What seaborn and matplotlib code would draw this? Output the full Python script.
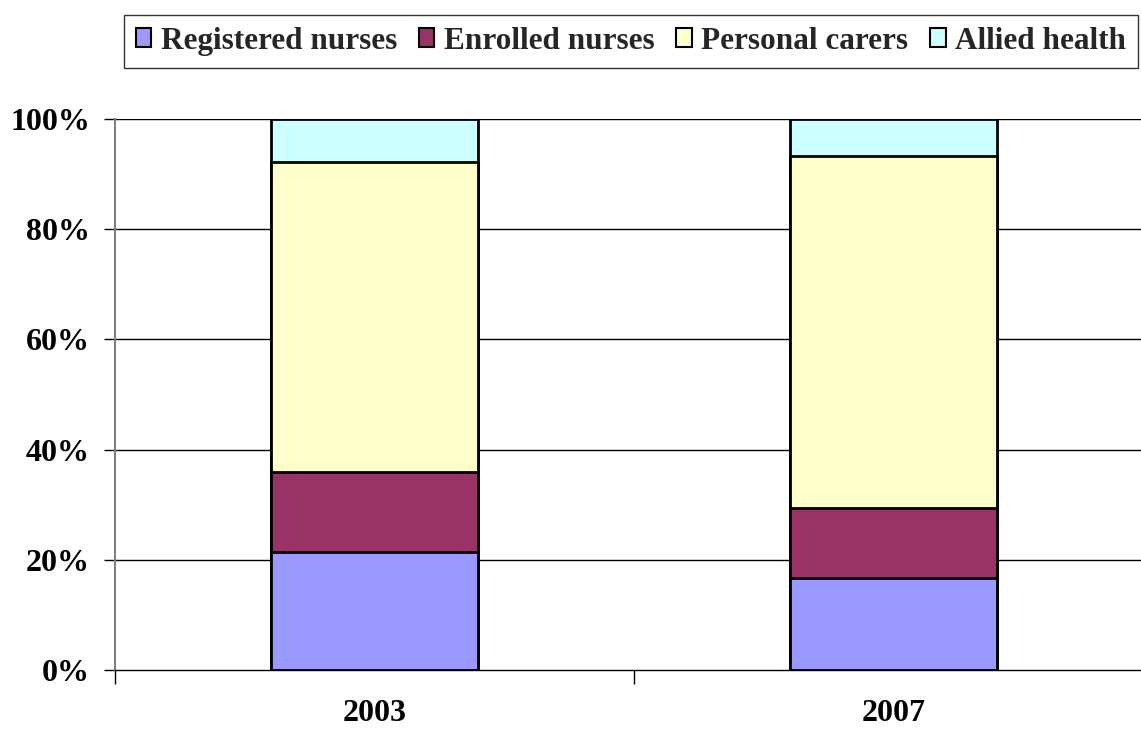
import matplotlib
matplotlib.use("Agg")
import matplotlib.pyplot as plt
import matplotlib.patches as mpatches
import numpy as np
import pandas as pd
import seaborn as sns

# Workforce composition (% of total staff) by survey year
years = ["2003", "2007"]
categories = ["Registered nurses", "Enrolled nurses", "Personal carers", "Allied health"]
registered_nurses = [21.4, 16.7]
enrolled_nurses = [14.6, 12.7]
personal_carers = [56.2, 63.9]
allied_health = [7.8, 6.7]
y_ticks = [0, 20, 40, 60, 80, 100]
y_tick_labels = ["0%", "20%", "40%", "60%", "80%", "100%"]

colors = ["#9999FF", "#993366", "#FFFFCC", "#CCFFFF"]

sns.set_theme(style="white")
plt.rcParams["font.family"] = ["Liberation Serif", "DejaVu Serif"]
plt.rcParams["font.weight"] = "bold"

df = pd.DataFrame({
    "year": years,
    categories[0]: registered_nurses,
    categories[1]: enrolled_nurses,
    categories[2]: personal_carers,
    categories[3]: allied_health,
})
cum = df[categories].cumsum(axis=1)

fig = plt.figure(figsize=(11.41, 7.29), dpi=100)
ax = fig.add_axes([115 / 1141, 1 - 670 / 729, 1038 / 1141, 551 / 729])

# horizontal gridlines behind the bars
for yv in y_ticks[1:]:
    ax.axhline(yv, color="black", lw=1.0, zorder=0)

# stacked bars: draw cumulative totals from the top segment downwards
for cat, col in reversed(list(zip(categories, colors))):
    sns.barplot(x=df["year"], y=cum[cat], color=col, width=0.4,
                edgecolor="black", linewidth=2.0, saturation=1,
                ax=ax, zorder=2)

ax.set_xlim(-0.5, 1.5)
ax.set_ylim(0, 100)
ax.set_yticks(y_ticks)
ax.set_yticklabels(y_tick_labels)
ax.set_xticks([0, 1])
ax.set_xticklabels(years)
ax.set_xlabel("")
ax.set_ylabel("")

# category separator ticks on the x axis
ax.set_xticks([-0.5, 0.5, 1.5], minor=True)
ax.tick_params(axis="x", which="major", length=0, pad=21, labelsize=23)
ax.tick_params(axis="x", which="minor", length=10, width=1, color="black",
               direction="out", bottom=True)
ax.tick_params(axis="y", length=8, width=1, color="black", direction="out",
               left=True, pad=10, labelsize=23)
for lbl in ax.get_xticklabels() + ax.get_yticklabels():
    lbl.set_fontweight("bold")
    lbl.set_color("black")

for side in ["top", "right"]:
    ax.spines[side].set_visible(False)
ax.spines["left"].set_color("#808080")
ax.spines["left"].set_linewidth(1.5)
ax.spines["bottom"].set_color("black")
ax.spines["bottom"].set_linewidth(1.0)
ax.grid(False)

handles = [mpatches.Patch(facecolor=c, edgecolor="black", linewidth=1.5)
           for c in colors]
leg = fig.legend(handles, categories, loc="upper right",
                 bbox_to_anchor=(1138 / 1141, 1 - 15 / 729),
                 ncol=4, frameon=True, fancybox=False, borderaxespad=0,
                 prop={"family": "Liberation Serif", "weight": "bold", "size": 22.5},
                 handlelength=0.5, handleheight=0.55, handletextpad=0.3,
                 columnspacing=0.7, borderpad=0.38)
leg.get_frame().set_edgecolor("black")
leg.get_frame().set_linewidth(1.0)

fig.savefig("out.png", dpi=100)
